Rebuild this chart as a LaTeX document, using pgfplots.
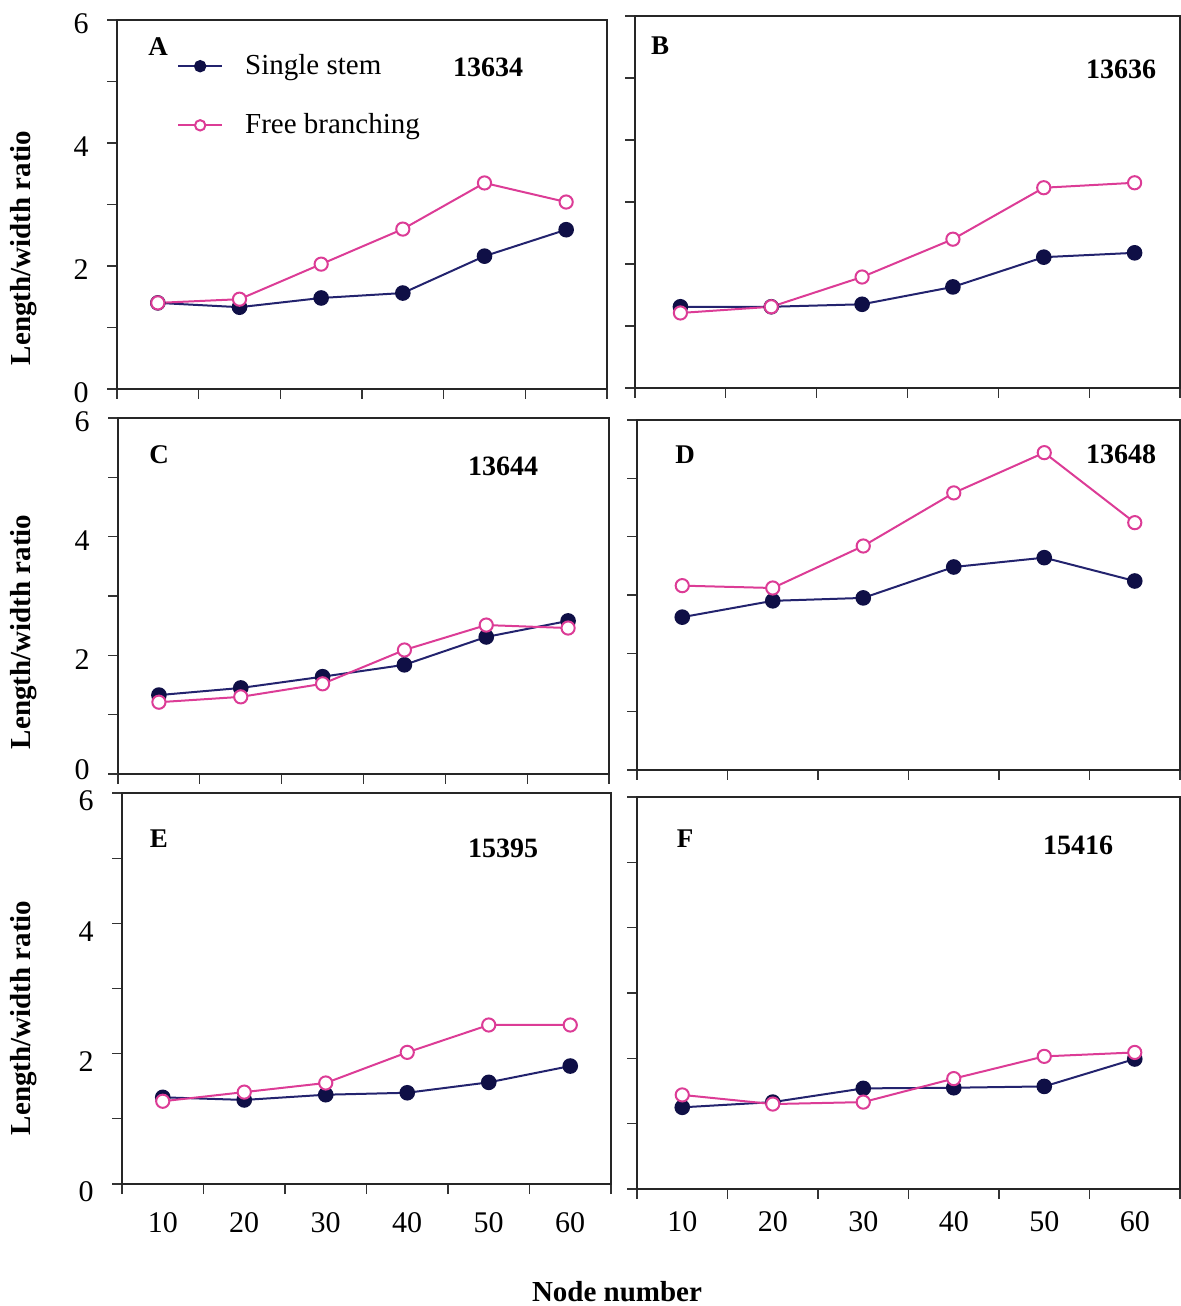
\documentclass[border=0pt]{standalone}
\usepackage{fontspec}
\setmainfont{Liberation Serif}
\usepackage{pgfplots}
\pgfplotsset{compat=1.18}
\definecolor{navy}{RGB}{15,15,70}
\definecolor{navyline}{RGB}{35,35,110}
\definecolor{pinkc}{RGB}{220,60,150}
\pgfplotsset{
 panel/.style={
   scale only axis, anchor=south west,
   xmin=0.5,xmax=6.5,ymin=0,ymax=6,
   xtick={1,...,6}, minor xtick={0.5,1.5,...,6.5},
   ytick={0,2,4,6}, minor ytick={1,3,5},
   major x tick style={draw=none},
   tick pos=left, tick align=outside,
   major tick length=5pt, minor tick length=5pt,
   tick style={black!80,line width=0.6pt},
   axis line style={black!85,line width=1.1pt},
   /pgf/number format/assume math mode=true,
   ticklabel style={font=\fontsize{15}{17}\selectfont, inner sep=1pt},
   yticklabel style={xshift=-9pt, inner sep=0pt},
   xticklabel style={yshift=-8pt},
   clip=false,
 },
 ss/.style={navyline, line width=1pt, mark=*, mark size=3.4pt, mark options={fill=navy,draw=navy,solid}},
 fb/.style={pinkc, line width=1pt, mark=*, mark size=3.3pt, mark options={fill=white,draw=pinkc,line width=1pt,solid}},
}
\begin{document}
\begin{tikzpicture}
\useasboundingbox (0,0) rectangle (590.5pt,653pt);
% A
\begin{axis}[panel, at={(58.5pt,458.5pt)}, width=245pt, height=184.5pt,
  xticklabels={}, yticklabel style={yshift=-2pt},
  legend style={draw=none, fill=none, at={(0.122,0.918)}, anchor=north west,
    font=\fontsize{14.5}{16}\selectfont, row sep=14pt, inner sep=0pt,
    /tikz/every odd column/.append style={column sep=9pt}},
  legend cell align=left,
  legend image code/.code={\draw[mark repeat=2,mark phase=2,#1,mark size=2.6pt] plot coordinates {(0pt,0pt)(11pt,0pt)(22pt,0pt)};}]
\addplot[ss] coordinates {(1,1.40)(2,1.33)(3,1.48)(4,1.56)(5,2.16)(6,2.59)};
\addplot[fb] coordinates {(1,1.40)(2,1.46)(3,2.03)(4,2.60)(5,3.35)(6,3.04)};
\legend{Single stem, Free branching}
\end{axis}
% B
\begin{axis}[panel, at={(317.5pt,459pt)}, width=272.5pt, height=186pt,
  xticklabels={}, yticklabels={}]
\addplot[ss] coordinates {(1,1.31)(2,1.31)(3,1.35)(4,1.63)(5,2.11)(6,2.18)};
\addplot[fb] coordinates {(1,1.21)(2,1.31)(3,1.79)(4,2.40)(5,3.23)(6,3.31)};
\end{axis}
% C
\begin{axis}[panel, at={(59pt,266pt)}, width=245.5pt, height=178pt,
  xticklabels={}, yticklabels={,2,4,6}, yticklabel style={yshift=-2pt},
  extra y ticks={0}, extra y tick labels={0},
  extra y tick style={yticklabel style={yshift=4pt}}]
\addplot[ss] coordinates {(1,1.33)(2,1.45)(3,1.64)(4,1.84)(5,2.31)(6,2.58)};
\addplot[fb] coordinates {(1,1.21)(2,1.30)(3,1.52)(4,2.09)(5,2.51)(6,2.46)};
\end{axis}
% D
\begin{axis}[panel, at={(318.5pt,268pt)}, width=271.5pt, height=175pt,
  xticklabels={}, yticklabels={}]
\addplot[ss] coordinates {(1,2.62)(2,2.90)(3,2.95)(4,3.48)(5,3.64)(6,3.24)};
\addplot[fb] coordinates {(1,3.16)(2,3.12)(3,3.84)(4,4.75)(5,5.44)(6,4.24)};
\end{axis}
% E
\begin{axis}[panel, at={(61pt,61pt)}, width=244.5pt, height=195.5pt,
  xticklabels={10,20,30,40,50,60}, yticklabel style={yshift=-4pt}]
\addplot[ss] coordinates {(1,1.33)(2,1.29)(3,1.37)(4,1.40)(5,1.56)(6,1.81)};
\addplot[fb] coordinates {(1,1.27)(2,1.41)(3,1.55)(4,2.02)(5,2.44)(6,2.44)};
\end{axis}
% F
\begin{axis}[panel, at={(318.5pt,58.5pt)}, width=271.5pt, height=196pt,
  xticklabels={10,20,30,40,50,60}, yticklabels={}, xticklabel style={yshift=3pt}]
\addplot[ss] coordinates {(1,1.25)(2,1.33)(3,1.54)(4,1.55)(5,1.57)(6,1.99)};
\addplot[fb] coordinates {(1,1.44)(2,1.30)(3,1.33)(4,1.69)(5,2.03)(6,2.09)};
\end{axis}
% panel letters and accession numbers
\begin{scope}[every node/.style={font=\fontsize{13.5}{16}\selectfont\bfseries, inner sep=0pt}]
\node at (79pt,629.5pt) {A};
\node at (330pt,630pt) {B};
\node at (79.5pt,425.5pt) {C};
\node at (342.5pt,425.5pt) {D};
\node at (79.5pt,233.5pt) {E};
\node at (342.5pt,233.5pt) {F};
\end{scope}
\begin{scope}[every node/.style={font=\fontsize{14}{16}\selectfont\bfseries, inner sep=0pt}]
\node at (244pt,619.5pt) {13634};
\node at (560.5pt,618.5pt) {13636};
\node at (251.5pt,420pt) {13644};
\node at (560.5pt,426pt) {13648};
\node at (251.5pt,229pt) {15395};
\node at (539pt,230.5pt) {15416};
\end{scope}
\begin{scope}[every node/.style={font=\fontsize{14.5}{16}\selectfont\bfseries, inner sep=0pt}]
\node[rotate=90] at (12pt,529pt) {Length/width ratio};
\node[rotate=90] at (12pt,337pt) {Length/width ratio};
\node[rotate=90] at (12pt,144pt) {Length/width ratio};
\node[anchor=base, font=\fontsize{14.5}{16}\selectfont\bfseries] at (308.5pt,2pt) {Node number};
\end{scope}
\end{tikzpicture}
\end{document}
